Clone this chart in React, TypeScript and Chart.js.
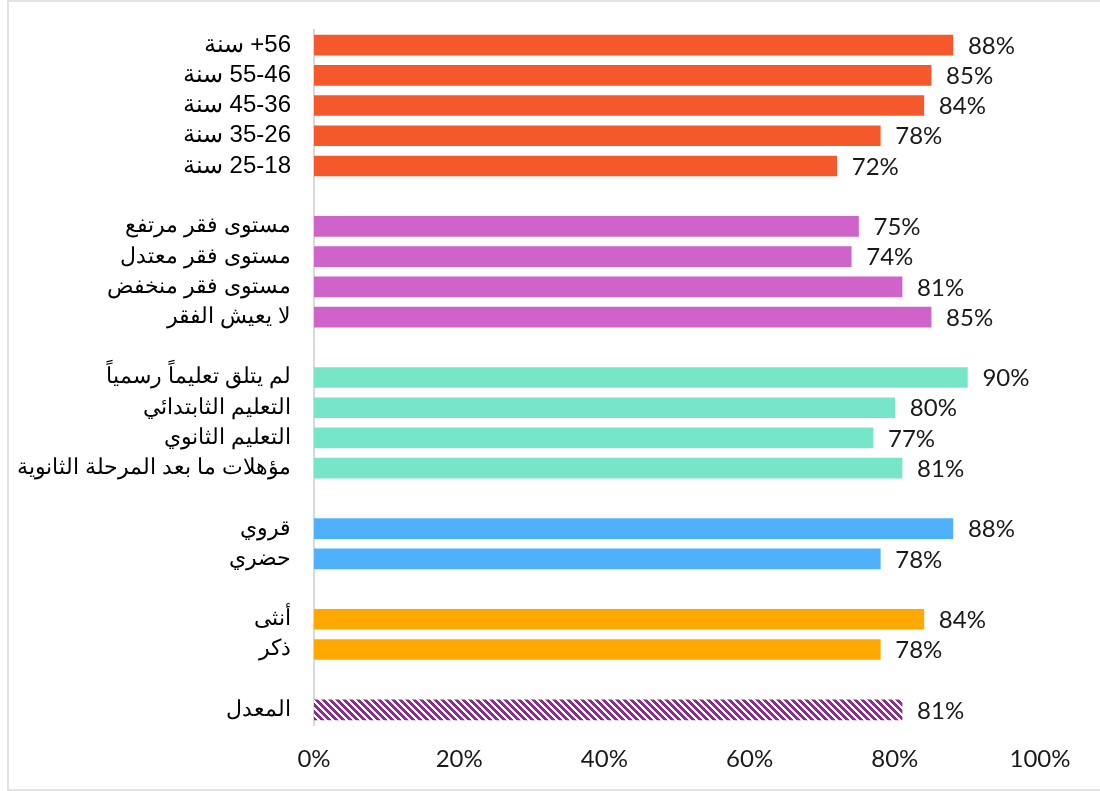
import React, { useEffect, useRef } from "react";
import { Chart, registerables } from "chart.js";

Chart.register(...registerables);

// Bidi controls: force left-to-right embedding so the visual order is fixed
const LRE = "\u202A";
const PDF = "\u202C";

// Labels written in visual (left-to-right) order
const categories: string[] = [
  "سنة +56",
  "سنة 55-46",
  "سنة 45-36",
  "سنة 35-26",
  "سنة 25-18",
  "",
  "مستوى فقر مرتفع",
  "مستوى فقر معتدل",
  "مستوى فقر منخفض",
  "لا يعيش الفقر",
  "",
  "لم يتلق تعليماً رسمياً",
  "التعليم الثابتدائي",
  "التعليم الثانوي",
  "مؤهلات ما بعد المرحلة الثانوية",
  "",
  "قروي",
  "حضري",
  "",
  "أنثى",
  "ذكر",
  "",
  "المعدل",
];

const values: (number | null)[] = [
  0.88, 0.85, 0.84, 0.78, 0.72,
  null,
  0.75, 0.74, 0.81, 0.85,
  null,
  0.9, 0.8, 0.77, 0.81,
  null,
  0.88, 0.78,
  null,
  0.84, 0.78,
  null,
  0.81,
];

const groups: string[] = [
  "age", "age", "age", "age", "age",
  "",
  "poverty", "poverty", "poverty", "poverty",
  "",
  "edu", "edu", "edu", "edu",
  "",
  "area", "area",
  "",
  "sex", "sex",
  "",
  "avg",
];

const xTicks: number[] = [0, 0.2, 0.4, 0.6, 0.8, 1];

const groupColors: Record<string, string> = {
  age: "#F4582B",
  poverty: "#D063C9",
  edu: "#77E6C8",
  area: "#4FB1FB",
  sex: "#FFA900",
  "": "#ffffff",
};

function visualLabel(s: string): string {
  if (!s) return "";
  const parts = s.split(" ").map((w) => (/[0-9]/.test(w) ? LRE + w + PDF : w));
  return LRE + parts.join(" ") + PDF;
}

function makeStripePattern(): CanvasPattern | string {
  const c = document.createElement("canvas");
  const n = 7;
  c.width = n;
  c.height = n;
  const ctx = c.getContext("2d");
  if (!ctx) return "#8E2C8E";
  ctx.fillStyle = "#ffffff";
  ctx.fillRect(0, 0, n, n);
  ctx.fillStyle = "#8E2C8E";
  for (let y = 0; y < n; y++) {
    for (let x = 0; x < n; x++) {
      const d = (((x - y) % n) + n) % n;
      if (d < 4) ctx.fillRect(x, y, 1, 1);
    }
  }
  const p = ctx.createPattern(c, "repeat");
  return p || "#8E2C8E";
}

const VALUE_FONT = "24px Lato, 'DejaVu Sans', sans-serif";

const valueLabels = {
  id: "valueLabels",
  afterDatasetsDraw(chart: any) {
    const ctx = chart.ctx;
    const meta = chart.getDatasetMeta(0);
    ctx.save();
    ctx.font = VALUE_FONT;
    ctx.fillStyle = "#1a1a1a";
    ctx.textAlign = "left";
    ctx.textBaseline = "middle";
    meta.data.forEach((bar: any, i: number) => {
      const v = values[i];
      if (v === null || v === undefined) return;
      ctx.fillText(Math.round(v * 100) + "%", bar.x + 15, bar.y + 1);
    });
    ctx.restore();
  },
};

export default function App() {
  const ref = useRef<HTMLCanvasElement | null>(null);

  useEffect(() => {
    if (!ref.current) return;
    const pattern = makeStripePattern();
    const colors = groups.map((g) => (g === "avg" ? pattern : groupColors[g]));
    const chart = new Chart(ref.current, {
      type: "bar",
      data: {
        labels: categories,
        datasets: [
          {
            data: values as any,
            backgroundColor: colors as any,
            borderWidth: 0,
            barThickness: 20,
          },
        ],
      },
      options: {
        indexAxis: "y",
        animation: false,
        responsive: false,
        maintainAspectRatio: false,
        layout: { padding: { left: 14, right: 60, top: 30, bottom: 0 } },
        plugins: {
          legend: { display: false },
          tooltip: { enabled: false },
        },
        scales: {
          x: {
            min: 0,
            max: 1,
            afterBuildTicks: (scale: any) => {
              scale.ticks = xTicks.map((v) => ({ value: v }));
            },
            afterFit: (scale: any) => {
              scale.height = 66;
            },
            grid: { display: false, drawTicks: false },
            border: { display: false },
            ticks: {
              padding: 20,
              color: "#1a1a1a",
              font: { family: "Lato, 'DejaVu Sans', sans-serif", size: 24 },
              callback: (v: any) => Math.round(Number(v) * 100) + "%",
            },
          },
          y: {
            afterFit: (scale: any) => {
              scale.width = 300;
              scale.paddingTop = 0;
              scale.paddingBottom = 0;
            },
            grid: { display: false, drawTicks: false },
            border: { display: true, color: "#d9d9d9", width: 2 },
            ticks: {
              padding: 23,
              color: "#000000",
              autoSkip: false,
              font: (ctx: any) => ({
                family: "'Liberation Sans', Arial, sans-serif",
                size: groups[ctx.index] === "age" ? 24 : 21.5,
              }),
              callback: (_v: any, i: number) => visualLabel(categories[i]),
            },
          },
        },
      },
      plugins: [valueLabels],
    });
    return () => chart.destroy();
  }, []);

  return (
    <div style={{ position: "fixed", left: 0, top: 0, width: 1100, height: 791, background: "#fff" }}>
      <canvas ref={ref} width={1100} height={791} style={{ position: "absolute", left: 0, top: 0 }} />
      <div
        style={{
          position: "absolute",
          left: 7,
          top: 0,
          width: 1110,
          height: 787,
          border: "2px solid #e3e3e3",
          pointerEvents: "none",
        }}
      />
    </div>
  );
}
